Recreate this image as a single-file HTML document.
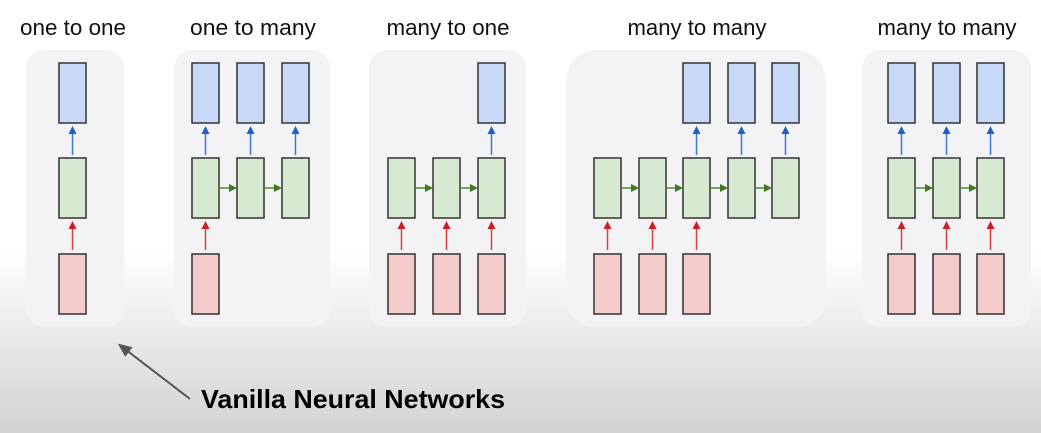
<!DOCTYPE html>
<html><head><meta charset="utf-8"><style>
html,body{margin:0;padding:0;width:1041px;height:433px;overflow:hidden;}
svg{display:block}
</style></head><body>
<svg width="1041" height="433" viewBox="0 0 1041 433" xmlns="http://www.w3.org/2000/svg" font-family="Liberation Sans, Arial, sans-serif">
<defs>
<linearGradient id="bg" x1="0" y1="0" x2="0" y2="1">
<stop offset="0" stop-color="#ffffff"/>
<stop offset="0.58" stop-color="#ffffff"/>
<stop offset="0.75" stop-color="#ececec"/>
<stop offset="1" stop-color="#d3d3d3"/>
</linearGradient>
<marker id="ab" markerWidth="8" markerHeight="8" refX="6" refY="4" orient="auto" markerUnits="userSpaceOnUse"><path d="M0,0 L8,4 L0,8 z" fill="#1f5fcc"/></marker>
<marker id="ar" markerWidth="8" markerHeight="8" refX="6" refY="4" orient="auto" markerUnits="userSpaceOnUse"><path d="M0,0 L8,4 L0,8 z" fill="#cc1f1f"/></marker>
<marker id="ag" markerWidth="8" markerHeight="8" refX="6" refY="4" orient="auto" markerUnits="userSpaceOnUse"><path d="M0,0 L8,4 L0,8 z" fill="#3d7a22"/></marker>
<marker id="ak" markerWidth="14" markerHeight="12" refX="10" refY="6" orient="auto" markerUnits="userSpaceOnUse"><path d="M0,0 L14,6 L0,12 z" fill="#555"/></marker>
</defs>
<rect width="1041" height="433" fill="url(#bg)"/>
<g font-size="22" fill="#111" text-anchor="middle">
<text x="73" y="35" textLength="106" lengthAdjust="spacingAndGlyphs">one to one</text>
<text x="253" y="35" textLength="126" lengthAdjust="spacingAndGlyphs">one to many</text>
<text x="448" y="35" textLength="123" lengthAdjust="spacingAndGlyphs">many to one</text>
<text x="697" y="35" textLength="139" lengthAdjust="spacingAndGlyphs">many to many</text>
<text x="947" y="35" textLength="139" lengthAdjust="spacingAndGlyphs">many to many</text>
</g>
<g fill="#f3f3f5">
<rect x="26" y="50" width="98" height="277" rx="18"/>
<rect x="174" y="50" width="156" height="277" rx="18"/>
<rect x="369" y="50" width="157" height="277" rx="18"/>
<rect x="566" y="50" width="260" height="277" rx="30"/>
<rect x="862" y="50" width="169" height="277" rx="18"/>
</g>
<g stroke="#333" stroke-width="1.5">
<g fill="#c9daf8">
<rect x="59" y="63" width="27" height="60"/>
<rect x="192" y="63" width="27" height="60"/><rect x="237" y="63" width="27" height="60"/><rect x="282" y="63" width="27" height="60"/>
<rect x="478" y="63" width="27" height="60"/>
<rect x="683" y="63" width="27" height="60"/><rect x="728" y="63" width="27" height="60"/><rect x="772" y="63" width="27" height="60"/>
<rect x="888" y="63" width="27" height="60"/><rect x="933" y="63" width="27" height="60"/><rect x="977" y="63" width="27" height="60"/>
</g>
<g fill="#d9ead3">
<rect x="59" y="158" width="27" height="60"/>
<rect x="192" y="158" width="27" height="60"/><rect x="237" y="158" width="27" height="60"/><rect x="282" y="158" width="27" height="60"/>
<rect x="388" y="158" width="27" height="60"/><rect x="433" y="158" width="27" height="60"/><rect x="478" y="158" width="27" height="60"/>
<rect x="594" y="158" width="27" height="60"/><rect x="639" y="158" width="27" height="60"/><rect x="683" y="158" width="27" height="60"/><rect x="728" y="158" width="27" height="60"/><rect x="772" y="158" width="27" height="60"/>
<rect x="888" y="158" width="27" height="60"/><rect x="933" y="158" width="27" height="60"/><rect x="977" y="158" width="27" height="60"/>
</g>
<g fill="#f4cccc">
<rect x="59" y="254" width="27" height="60"/>
<rect x="192" y="254" width="27" height="60"/>
<rect x="388" y="254" width="27" height="60"/><rect x="433" y="254" width="27" height="60"/><rect x="478" y="254" width="27" height="60"/>
<rect x="594" y="254" width="27" height="60"/><rect x="639" y="254" width="27" height="60"/><rect x="683" y="254" width="27" height="60"/>
<rect x="888" y="254" width="27" height="60"/><rect x="933" y="254" width="27" height="60"/><rect x="977" y="254" width="27" height="60"/>
</g>
</g>
<g stroke="#3d78d8" stroke-width="1.5" marker-end="url(#ab)">
<line x1="72.5" y1="155" x2="72.5" y2="128"/>
<line x1="205.5" y1="155" x2="205.5" y2="128"/><line x1="250.5" y1="155" x2="250.5" y2="128"/><line x1="295.5" y1="155" x2="295.5" y2="128"/>
<line x1="491.5" y1="155" x2="491.5" y2="128"/>
<line x1="696.5" y1="155" x2="696.5" y2="128"/><line x1="741.5" y1="155" x2="741.5" y2="128"/><line x1="785.5" y1="155" x2="785.5" y2="128"/>
<line x1="901.5" y1="155" x2="901.5" y2="128"/><line x1="946.5" y1="155" x2="946.5" y2="128"/><line x1="990.5" y1="155" x2="990.5" y2="128"/>
</g>
<g stroke="#d84040" stroke-width="1.5" marker-end="url(#ar)">
<line x1="72.5" y1="250" x2="72.5" y2="223"/>
<line x1="205.5" y1="250" x2="205.5" y2="223"/>
<line x1="401.5" y1="250" x2="401.5" y2="223"/><line x1="446.5" y1="250" x2="446.5" y2="223"/><line x1="491.5" y1="250" x2="491.5" y2="223"/>
<line x1="607.5" y1="250" x2="607.5" y2="223"/><line x1="652.5" y1="250" x2="652.5" y2="223"/><line x1="696.5" y1="250" x2="696.5" y2="223"/>
<line x1="901.5" y1="250" x2="901.5" y2="223"/><line x1="946.5" y1="250" x2="946.5" y2="223"/><line x1="990.5" y1="250" x2="990.5" y2="223"/>
</g>
<g stroke="#4a8a30" stroke-width="1.5" marker-end="url(#ag)">
<line x1="219" y1="188" x2="235" y2="188"/><line x1="264" y1="188" x2="280" y2="188"/>
<line x1="415" y1="188" x2="431" y2="188"/><line x1="460" y1="188" x2="476" y2="188"/>
<line x1="621" y1="188" x2="637" y2="188"/><line x1="666" y1="188" x2="681" y2="188"/><line x1="710" y1="188" x2="726" y2="188"/><line x1="755" y1="188" x2="770" y2="188"/>
<line x1="915" y1="188" x2="931" y2="188"/><line x1="960" y1="188" x2="975" y2="188"/>
</g>
<line x1="190" y1="399" x2="121" y2="346" stroke="#555" stroke-width="2" marker-end="url(#ak)"/>
<text x="201" y="408" font-size="26" font-weight="bold" fill="#000" textLength="304" lengthAdjust="spacingAndGlyphs">Vanilla Neural Networks</text>
</svg>
</body></html>
